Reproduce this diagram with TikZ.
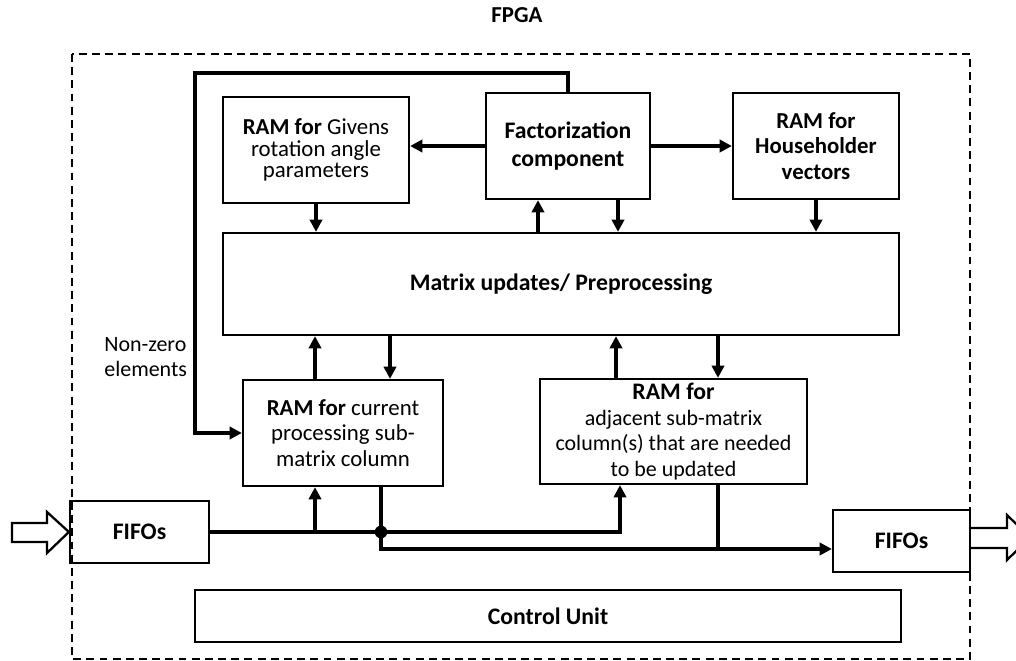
\documentclass[tikz,border=0pt]{standalone}
\usepackage{fontspec}
\setmainfont{Carlito}
\usetikzlibrary{arrows.meta}
\begin{document}
\begin{tikzpicture}[x=0.02cm,y=-0.02cm,
  box/.style={draw,line width=1.3pt,inner sep=2pt,align=center,font=\fontsize{13}{14.7}\selectfont},
  wire/.style={line width=2.1pt},
  arr/.style={wire,-{Triangle[length=7pt,width=7pt]}},
  hollow/.style={line width=1.3pt,fill=white}]
\useasboundingbox (0,0) rectangle (1016,661);
% FPGA boundary
\draw[line width=1.2pt,dash pattern=on 4.5pt off 3pt] (72,54) rectangle (970,659);
\node[font=\fontsize{13}{15}\selectfont\bfseries] (title) at (517,15) {FPGA};
% boxes
\node[box,minimum width=3.72cm,minimum height=2.12cm,font=\fontsize{13}{12.4}\selectfont] (givens) at (316,150) {\textbf{RAM for} Givens\\rotation angle\\parameters};
\node[box,minimum width=3.28cm,minimum height=2.12cm,font=\fontsize{13.5}{16}\selectfont\bfseries] (fact) at (568,146) {Factorization\\component};
\node[box,minimum width=3.32cm,minimum height=2.12cm] (house) at (816,146) {\textbf{RAM for}\\\textbf{Householder}\\\textbf{vectors}};
\node[box,minimum width=13.52cm,minimum height=2.04cm,font=\fontsize{13.5}{16}\selectfont\bfseries] (matrix) at (561,284) {Matrix updates/ Preprocessing};
\node[box,minimum width=4.0cm,minimum height=2.12cm] (cur) at (343,433) {\textbf{RAM for} current\\processing sub-\\matrix column};
\node[box,minimum width=5.34cm,minimum height=2.10cm,font=\fontsize{12.5}{14.7}\selectfont] (adj) at (673.5,431.5) {{\fontsize{13.5}{14.7}\selectfont\bfseries RAM for}\\adjacent sub-matrix\\column(s) that are needed\\to be updated};
\node[box,minimum width=2.78cm,minimum height=1.24cm,font=\fontsize{13.5}{16}\selectfont\bfseries] (fifoL) at (139.5,532) {FIFOs};
\node[box,minimum width=2.74cm,minimum height=1.24cm,font=\fontsize{13.5}{16}\selectfont\bfseries] (fifoR) at (901.5,541) {FIFOs};
\node[box,minimum width=14.12cm,minimum height=1.04cm,font=\fontsize{13.5}{16}\selectfont\bfseries] (ctrl) at (548,616) {Control Unit};
\node[anchor=west,align=left,inner sep=0pt,font=\fontsize{12.5}{14.7}\selectfont] (nz) at (104,357) {Non-zero\\elements};
% helper coordinates
\coordinate (c315) at (315,0);
\coordinate (c390) at (390,0);
\coordinate (c381) at (381,0);
\coordinate (c538) at (538,0);
\coordinate (c618) at (618,0);
\coordinate (c616) at (616,0);
\coordinate (c718) at (718,0);
\coordinate (c620) at (620,0);
\coordinate (c195) at (195,0);
\coordinate (r73) at (0,73);
\coordinate (r549) at (0,549);
% connectors
\draw[arr] (fact.north) |- (c195 |- r73) -- (c195 |- cur.west) -- (cur.west);
\draw[arr] (fact.west) -- (givens.east |- fact.west);
\draw[arr] (fact.east) -- (house.west |- fact.east);
\draw[arr] (givens.south) -- (givens.south |- matrix.north);
\draw[arr] (c538 |- matrix.north) -- (c538 |- fact.south);
\draw[arr] (c618 |- fact.south) -- (c618 |- matrix.north);
\draw[arr] (house.south) -- (house.south |- matrix.north);
\draw[arr] (c315 |- cur.north) -- (c315 |- matrix.south);
\draw[arr] (c390 |- matrix.south) -- (c390 |- cur.north);
\draw[arr] (c616 |- adj.north) -- (c616 |- matrix.south);
\draw[arr] (c718 |- matrix.south) -- (c718 |- adj.north);
\draw[arr] (fifoL.east) -- (c620 |- fifoL.east) -- (c620 |- adj.south);
\draw[arr] (c315 |- fifoL.east) -- (c315 |- cur.south);
\draw[arr] (c381 |- cur.south) -- (c381 |- r549) -- (fifoR.west |- r549);
\draw[wire] (c718 |- adj.south) -- (c718 |- r549);
\coordinate (dot) at (c381 |- fifoL.east);
\fill (dot) circle[radius=3.6pt];
% hollow arrows
\draw[hollow] (12,523) -- (47,523) -- (47,512) -- (fifoL.west) -- (47,553) -- (47,542) -- (12,542) -- cycle;
\draw[hollow] (fifoR.east |- 0,528) -- (1007,528) -- (1007,515) -- (1030,537.5) -- (1007,560) -- (1007,548) -- (fifoR.east |- 0,548);
\end{tikzpicture}
\end{document}
